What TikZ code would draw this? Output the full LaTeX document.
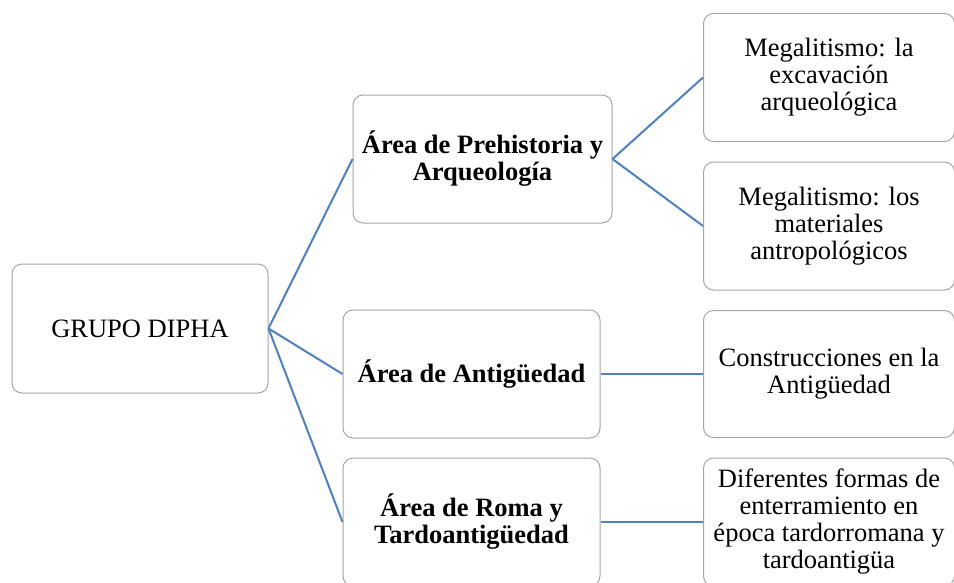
\documentclass[tikz,border=0pt]{standalone}
\usepackage{fontspec}
\setmainfont{Liberation Serif}
\definecolor{linkblue}{RGB}{79,129,189}
\definecolor{boxgray}{RGB}{165,165,165}
\begin{document}
\begin{tikzpicture}[x=1pt,y=-1pt,
  box/.style={draw=boxgray, line width=1pt, rounded corners=10pt, fill=white,
    align=center, inner sep=0pt, font=\fontsize{26.5}{27}\selectfont},
  link/.style={draw=linkblue, line width=2pt}]
\useasboundingbox (0,0) rectangle (954,582);
\clip (0,0) rectangle (954,582);
\node[box, minimum width=256pt, minimum height=129pt] (root) at (140,328.5) {GRUPO DIPHA};
\node[box, minimum width=259pt, minimum height=128pt] (pre) at (482.5,159) {\bfseries Área de Prehistoria y\\\bfseries Arqueología};
\node[box, minimum width=257pt, minimum height=128pt] (ant) at (471.5,374) {\bfseries Área de Antigüedad};
\node[box, minimum width=257pt, minimum height=128pt] (rom) at (471.5,522) {\bfseries Área de Roma y\\\bfseries Tardoantigüedad};
\node[box, minimum width=251pt, minimum height=128pt] (m1) at (829,77.5) {Megalitismo: la\\excavación\\arqueológica};
\node[box, minimum width=251pt, minimum height=128pt] (m2) at (829,226) {Megalitismo: los\\materiales\\antropológicos};
\node[box, minimum width=251pt, minimum height=127pt] (con) at (829,374) {Construcciones en la\\Antigüedad};
\node[box, minimum width=251pt, minimum height=128pt] (dif) at (829,522) {Diferentes formas de\\enterramiento en\\época tardorromana y\\tardoantigüa};
\draw[link] (root.east) -- (pre.west);
\draw[link] (root.east) -- (ant.west);
\draw[link] (root.east) -- (rom.west);
\draw[link] (pre.east) -- (m1.west);
\draw[link] (pre.east) -- (m2.west);
\draw[link] (ant.east) -- (con.west);
\draw[link] (rom.east) -- (dif.west);
\end{tikzpicture}
\end{document}
